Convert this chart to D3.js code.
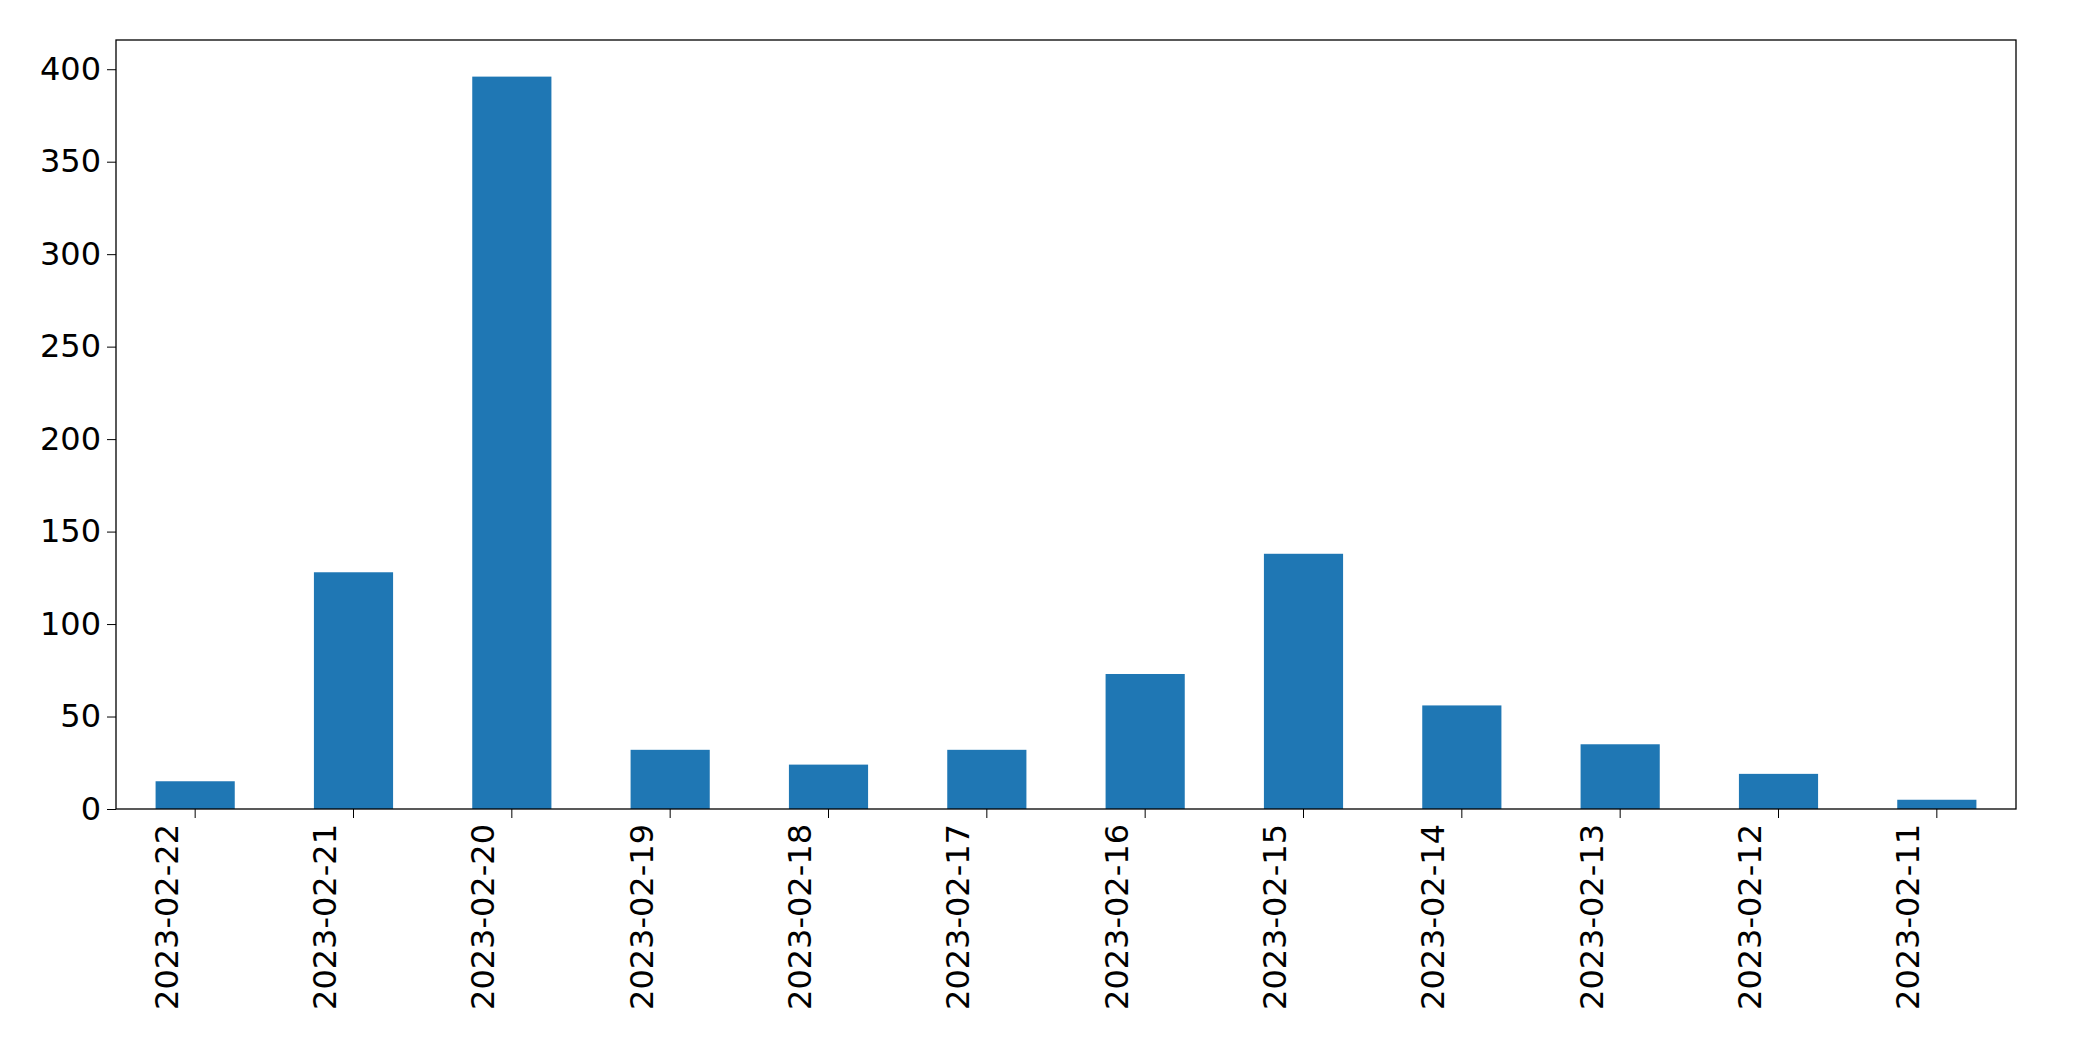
<!DOCTYPE html>
<html><head><meta charset="utf-8">
<script src="https://cdn.jsdelivr.net/npm/d3@7"></script>
<style>body{margin:0;background:#fff}svg{display:block}</style>
</head><body>
<script>
const categories = ["2023-02-22","2023-02-21","2023-02-20","2023-02-19","2023-02-18","2023-02-17","2023-02-16","2023-02-15","2023-02-14","2023-02-13","2023-02-12","2023-02-11"];
const values = [15,128,396,32,24,32,73,138,56,35,19,5];
const yTicks = [0,50,100,150,200,250,300,350,400];

const W=2093,H=1061, m={left:116,right:2093-2016,top:40,bottom:1061-809};
const svg=d3.select("body").append("svg").attr("width",W).attr("height",H);
const x=d3.scaleBand().domain(categories).range([m.left,W-m.right]).paddingInner(0.5).paddingOuter(0.25);
const y=d3.scaleLinear().domain([0,415.8]).range([H-m.bottom,m.top]);
svg.append("g").selectAll("rect").data(values).join("rect")
 .attr("x",(d,i)=>x(categories[i])).attr("width",x.bandwidth())
 .attr("y",d=>y(d)).attr("height",d=>y(0)-y(d)).attr("fill","#1f77b4");
svg.append("rect").attr("x",m.left).attr("y",m.top).attr("width",W-m.left-m.right).attr("height",H-m.top-m.bottom)
 .attr("fill","none").attr("stroke","#000").attr("stroke-width",1.3);
const font="'DejaVu Sans', sans-serif";
const ya=svg.append("g").attr("transform",`translate(${m.left},0)`).call(d3.axisLeft(y).tickValues(yTicks).tickSize(9).tickPadding(6));
ya.select(".domain").remove();
ya.selectAll("text").style("font-family",font).style("font-size","32px").attr("fill","#000");
const xa=svg.append("g").attr("transform",`translate(0,${H-m.bottom})`).call(d3.axisBottom(x).tickSize(9).tickPadding(6));
xa.select(".domain").remove();
xa.selectAll("text").style("font-family",font).style("font-size","32px").attr("fill","#000")
 .attr("transform","rotate(-90)").attr("text-anchor","end").attr("dx","-15px").attr("dy","-0.55em").attr("y",0).attr("x",0);
</script>
</body></html>
